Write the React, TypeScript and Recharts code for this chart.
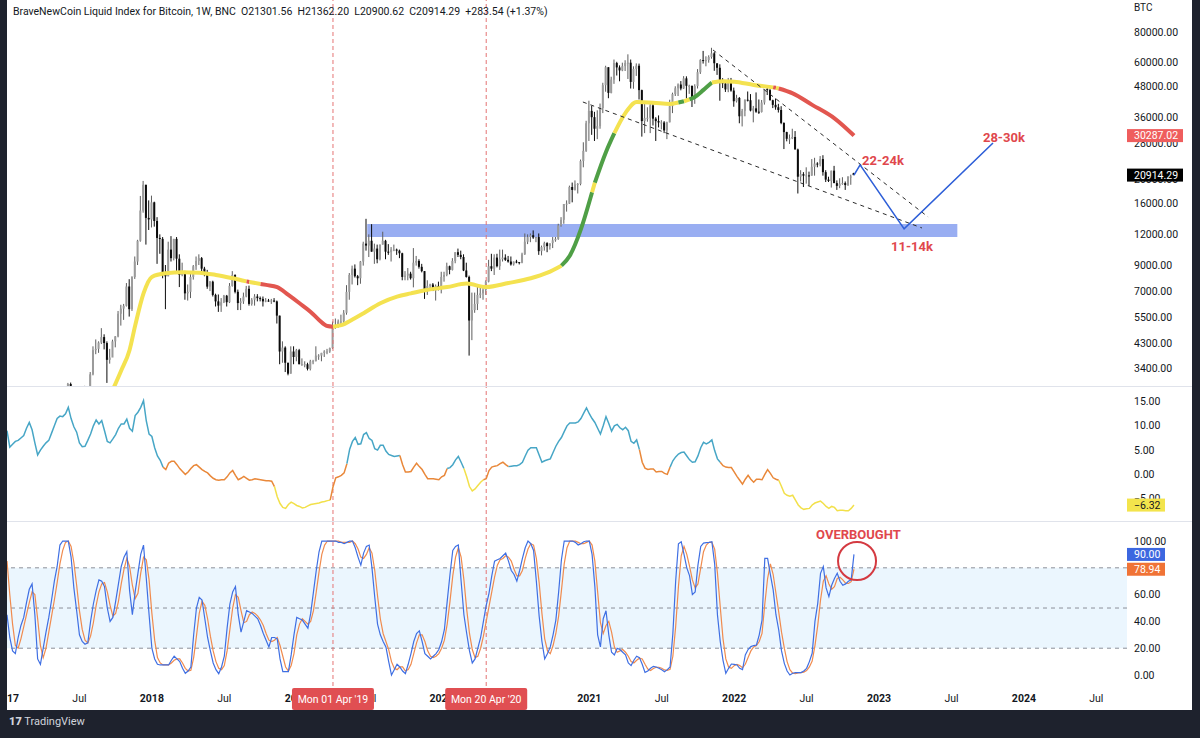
import React from 'react';
import {
  ComposedChart, Bar, Line, XAxis, YAxis,
  ReferenceLine, ReferenceArea, ReferenceDot,
} from 'recharts';

const FONT = 'Roboto, "Noto Sans", Arial, sans-serif';
const INK = '#131722';
const NOTE_RED = '#e0474c';
const MARKER_RED = '#e57373';

// time axis: week 0 = Mon 02 Jan 2017, one bar per week
const X_DOMAIN: [number, number] = [0, 402];
const timeTickWeeks = [0, 26, 52, 78, 104, 130, 156, 182, 209, 235, 261, 287, 313, 339, 365, 391];
const timeTickLabels = ['2017', 'Jul', '2018', 'Jul', '2019', 'Jul', '2020', 'Jul', '2021', 'Jul', '2022', 'Jul', '2023', 'Jul', '2024', 'Jul'];
const markerWeeks = [117, 172];
const markerLabels = ["Mon 01 Apr '19", "Mon 20 Apr '20"];

// ---- price (BNC BLX, weekly) ----
const SYMBOL = 'BraveNewCoin Liquid Index for Bitcoin, 1W, BNC';
const FIRST_PRICE_WEEK = 22;
const FIRST_OPEN = 2520;
const LAST_OPEN = 21301.56;
const LAST_CHANGE = 283.54;
const LAST_CHANGE_PCT = 1.37;

const closes = [
  2950, 2510, 2590, 2500, 2520, 1930, 2750, 2730,
  3230, 4050, 4100, 4350, 4580, 4330, 3700, 3780, 4400, 4610,
  5700, 5980, 6140, 7360, 5950, 8040, 9300, 11300, 15000, 19100,
  14000, 13800, 16200, 13600, 11600, 11500, 8200, 8100, 10400, 9600,
  11500, 9550, 8200, 8500, 6900, 7000, 8050, 8900, 9350, 9600,
  8700, 8250, 7350, 7700, 6800, 6400, 6150, 6350, 6750, 6350,
  7400, 8200, 7000, 6300, 6400, 6700, 7200, 6250, 6500, 6700,
  6600, 6550, 6400, 6450, 6400, 6450, 6400, 5600, 4000, 4150,
  3600, 3250, 4000, 3800, 4050, 3550, 3550, 3550, 3400, 3650,
  3650, 3850, 3850, 3950, 4000, 4000, 4130, 5050, 5050, 5300,
  5300, 5750, 7000, 8200, 8700, 8100, 7950, 9300, 11000, 10800,
  11300, 10200, 10500, 9500, 10900, 11300, 10200, 10150, 10400, 10400,
  10300, 10050, 8050, 8150, 8300, 7950, 9200, 9350, 8850, 8500,
  7050, 7400, 7500, 7100, 7400, 7250, 8050, 8200, 8900, 8600,
  9350, 10150, 9900, 9700, 8550, 8050, 5350, 5900, 6250, 6800,
  6900, 7130, 7700, 8900, 8700, 9650, 8900, 9500, 9650, 9450,
  9300, 9050, 9300, 9250, 9200, 9950, 11200, 11700, 11900, 11650,
  11700, 10250, 10650, 11050, 10750, 11050, 11350, 11500, 13050, 13750,
  15950, 16000, 18700, 18200, 19150, 19250, 23850, 26250, 34000, 38200,
  36000, 32300, 33100, 39200, 48600, 57500, 45200, 51200, 59800, 57400,
  55800, 58100, 59800, 60000, 50100, 56600, 58300, 46400, 34700, 35700,
  35800, 40200, 35500, 34700, 34250, 34250, 31800, 34300, 39900, 44700,
  47200, 48900, 47100, 51800, 48300, 48300, 42700, 48200, 54900, 61500,
  61300, 61500, 63300, 65500, 59700, 57200, 50400, 49400, 46700, 50800,
  46200, 41800, 43100, 36300, 38200, 42400, 42200, 38300, 39100, 37900,
  37800, 41300, 46800, 46400, 42200, 40400, 39500, 38500, 34100, 31300,
  29400, 29500, 29900, 26600, 20600, 21100, 20800, 20850, 20800, 22600,
  23300, 23200, 24300, 21500, 20050, 19800, 21800, 19400, 18900, 19300,
  19400, 19050, 20600, 20630.75, 20914.29,
];
const highs = [
  2980, 2990, 2770, 2600, 2630, 2540, 2900, 2830,
  3300, 4200, 4480, 4400, 4980, 4700, 4400, 4100, 4470, 4620,
  5850, 6200, 6250, 7600, 7880, 8100, 9750, 11400, 17200, 19800,
  19100, 16500, 17250, 16300, 14100, 12000, 11700, 9000, 11200, 11800,
  11500, 11700, 9950, 9200, 8520, 7500, 8450, 9000, 9750, 9950,
  9700, 8850, 8600, 7750, 7770, 6880, 6830, 6600, 6800, 6800,
  7600, 8500, 8250, 7150, 6600, 6950, 7400, 7420, 6600, 6850,
  6850, 6700, 6700, 6600, 6550, 6550, 6600, 6450, 5600, 4400,
  4200, 3600, 4200, 4200, 4100, 4100, 3750, 3650, 3600, 3700,
  3700, 4200, 3900, 3950, 4050, 4100, 4150, 5300, 5450, 5400,
  5650, 5900, 7450, 8350, 8950, 9050, 8200, 9350, 11200, 13880,
  12000, 13200, 11000, 10900, 10900, 12300, 11400, 10950, 10650, 10900,
  10500, 10400, 10100, 8500, 8750, 8450, 10550, 9800, 9500, 9100,
  8500, 7800, 7550, 7600, 7500, 7700, 8450, 8450, 9200, 8950,
  9600, 10150, 10500, 10300, 9950, 9200, 8150, 6950, 6950, 7350,
  7450, 7300, 7800, 9450, 10000, 9950, 10000, 10400, 10400, 9950,
  9800, 9750, 9300, 9450, 9250, 10100, 12100, 12000, 12100, 12450,
  11700, 12100, 10800, 11200, 11150, 10950, 11700, 11700, 13250, 14100,
  15950, 16500, 18950, 19500, 19900, 19400, 24200, 28450, 34800, 42000,
  40000, 37850, 38400, 40900, 49700, 58300, 57500, 52600, 61800, 60500,
  58500, 60000, 61400, 64900, 61800, 58000, 59600, 59500, 46600, 40800,
  39500, 41300, 41300, 36000, 36600, 35000, 34700, 34500, 42400, 45300,
  48100, 49400, 50500, 52900, 52800, 48800, 48400, 49000, 56500, 62000,
  67000, 63700, 64300, 69000, 66300, 59400, 59100, 51900, 50500, 52000,
  52000, 47500, 44400, 43500, 38900, 42500, 45800, 44700, 40000, 45400,
  42500, 42300, 46900, 48200, 47000, 42400, 42900, 40800, 39900, 34300,
  31400, 30600, 32300, 31600, 26800, 21900, 21500, 22500, 21600, 24300,
  24600, 23600, 25000, 25200, 21900, 20600, 21800, 22800, 19900, 20300,
  20500, 19700, 20700, 21000, 21362.2,
];
const lows = [
  2450, 2150, 2460, 2400, 2490, 1840, 1900, 2470,
  2650, 3200, 3900, 3950, 4290, 4080, 2980, 3570, 3800, 4160,
  4570, 5100, 5380, 6100, 5550, 5850, 7900, 9000, 11200, 14700,
  10900, 12500, 12800, 12900, 9100, 10000, 7950, 5950, 8100, 9300,
  9400, 8400, 7320, 8100, 6500, 6450, 6600, 7850, 8600, 9000,
  8350, 8100, 7200, 7050, 6700, 6100, 5800, 5800, 6300, 6100,
  6300, 7350, 6900, 5900, 5900, 6250, 6650, 6150, 6150, 6150,
  6400, 6400, 6100, 6350, 6380, 6250, 6350, 5200, 3550, 3600,
  3300, 3200, 3250, 3550, 3650, 3550, 3500, 3450, 3350, 3350,
  3550, 3650, 3700, 3650, 3800, 3900, 3950, 4100, 4950, 5000,
  5100, 5200, 5650, 6500, 7500, 8000, 7450, 7550, 8950, 10300,
  9700, 10200, 9100, 9150, 9400, 10900, 9500, 9900, 9300, 10250,
  9900, 9600, 7800, 7800, 7800, 7850, 7300, 8950, 8700, 8400,
  6550, 6800, 7100, 7050, 6450, 7100, 6900, 7700, 8100, 8250,
  8550, 9150, 9700, 9500, 8500, 8000, 3850, 4450, 5750, 5900,
  6600, 6500, 6800, 7650, 8500, 8200, 8800, 8600, 9300, 9350,
  9200, 8950, 8950, 9150, 9050, 9150, 9900, 10950, 11150, 11500,
  11150, 9900, 9850, 10300, 10150, 10400, 10550, 11200, 11400, 12900,
  13250, 14850, 15950, 16200, 18100, 17600, 19000, 22500, 26000, 28800,
  30500, 28800, 29300, 32300, 37400, 45700, 43000, 45000, 49200, 53200,
  50400, 55400, 55500, 51500, 47100, 47000, 53000, 42500, 30000, 31000,
  34500, 31000, 33300, 28800, 32700, 32100, 31000, 29300, 34300, 37400,
  43900, 43900, 46300, 46900, 42900, 44800, 39600, 40800, 47100, 54000,
  59500, 58000, 60000, 62300, 55600, 53500, 42000, 47300, 45600, 45500,
  45700, 39700, 41300, 34000, 33000, 36300, 41700, 38000, 34300, 37500,
  37100, 37600, 40500, 44300, 42100, 39200, 38600, 37600, 33700, 26700,
  28700, 28000, 29300, 26600, 17600, 19700, 18700, 19300, 18900, 20800,
  20800, 22500, 22700, 20800, 19600, 19600, 18600, 19400, 18200, 18500,
  19100, 18200, 18900, 19100, 20900.62,
];

// price scale ticks (log)
const priceTicks = [3400, 4300, 5500, 7000, 9000, 12000, 16000, 20000, 28000, 36000, 48000, 60000, 80000];
const PRICE_DOMAIN: [number, number] = [2895, 108000];

// moving average, with its trend colouring
const maWeeks = [38, 41, 44, 46, 49, 52, 57, 63, 69, 75, 81, 86, 87, 91, 93, 97, 101, 105, 109, 112, 115, 117, 120, 124, 128, 134, 140, 145, 150, 158, 165, 172, 180, 188, 194, 199, 202, 206, 210, 211, 215, 218, 222, 226, 232, 238, 241, 243, 245, 247, 250, 253, 257, 261, 268, 275, 276, 277, 282, 289, 297, 304];
const maValues = [2800, 3350, 4060, 5100, 6900, 8050, 8330, 8420, 8380, 8200, 7950, 7720, 7680, 7540, 7470, 7320, 6800, 6290, 5800, 5380, 5080, 5050, 5120, 5400, 5730, 6290, 6690, 6900, 7100, 7320, 7560, 7320, 7600, 7950, 8380, 8950, 9820, 12600, 17800, 19500, 26000, 31000, 37500, 41500, 41250, 40750, 41300, 41800, 42500, 43600, 46500, 49800, 50400, 50200, 48700, 47600, 47400, 47100, 45000, 40400, 35600, 30287.02];
const maSegments: [number, number, string][] = [
  [38, 86, 'y'], [86, 87, 'r'], [87, 91, 'y'], [91, 117, 'r'], [117, 199, 'y'],
  [199, 210, 'g'], [210, 211, 'y'], [211, 218, 'g'], [218, 241, 'y'], [241, 243, 'g'],
  [243, 245, 'y'], [245, 253, 'g'], [253, 275, 'y'], [275, 276, 'r'], [276, 277, 'y'], [277, 304, 'r'],
];
const MA_COLORS: Record<string, string> = { y: '#f4e250', g: '#4f9f46', r: '#e2564f' };

// drawn annotations
const supportBand = { fromWeek: 129.3, toWeek: 341.1, low: 11700, high: 13220 };
const channelUpper = [[253.4, 67600], [330.6, 14130]];
const channelLower = [[206.7, 41500], [328.4, 12740]];
const projectionWeeks = [304, 306.2, 322, 353.9];
const projectionPrices = [20914.29, 23010, 12630, 28270];
const noteLabels = ['22-24k', '28-30k', '11-14k'];
const noteWeeks = [306.9, 350.3, 317.3];
const notePrices = [23010, 28530, 10270];

// ---- momentum oscillator ----
const osc = [
  9.0, 5.6, 6.2, 6.8, 7.0, 7.5, 8.0, 9.5, 10.7, 9.2,
  6.5, 4.0, 5.0, 5.8, 6.5, 7.0, 8.5, 10.0, 11.5, 12.0,
  11.9, 12.5, 13.8, 11.5, 9.8, 8.7, 6.5, 5.7, 5.8, 7.0,
  8.3, 10.0, 11.2, 10.4, 11.1, 9.0, 6.8, 6.5, 7.3, 8.2,
  9.5, 10.4, 10.4, 11.4, 9.5, 8.9, 12.1, 12.8, 13.8, 15.2,
  11.0, 8.3, 7.8, 5.5, 3.8, 2.9, 1.5, 1.0, 2.3, 2.7,
  2.7, 2.0, 1.2, 0.6, 0.0, 0.5, 1.2, 1.8, 2.0, 1.5,
  1.0, 0.6, 0.3, -0.3, -0.8, -1.1, -1.2, -1.1, -1.1, -0.5,
  0.3, 0.8, -0.2, -1.1, -0.8, -0.4, -0.8, -1.2, -1.1, -0.9,
  -1.0, -1.1, -1.2, -1.3, -1.3, -1.4, -2.5, -4.6, -6.0, -6.8,
  -7.0, -6.2, -5.7, -6.0, -6.4, -6.6, -6.9, -6.8, -6.5, -6.2,
  -6.1, -6.0, -5.9, -5.7, -5.6, -5.4, -5.3, -2.6, -0.7, -0.5,
  -0.2, 0.3, 2.2, 5.2, 6.8, 7.6, 6.2, 6.3, 8.2, 8.6,
  7.4, 7.0, 5.3, 5.0, 6.0, 6.0, 4.8, 4.1, 3.9, 3.7,
  3.8, 3.9, 2.0, 0.5, 0.5, 0.6, 1.5, 2.3, 1.6, 1.0,
  0.0, -0.9, -0.9, -0.9, -1.0, -1.1, -0.5, -0.2, 1.2, 1.4,
  2.0, 3.0, 3.7, 2.5, 1.2, -0.5, -2.5, -3.4, -3.0, -2.3,
  -1.6, -1.1, -0.9, 0.8, 1.5, 1.7, 1.8, 2.2, 2.5, 2.0,
  1.6, 1.7, 1.8, 1.8, 2.0, 2.5, 3.8, 5.0, 5.5, 5.5,
  5.5, 4.0, 2.5, 2.8, 3.0, 3.2, 4.5, 5.8, 6.8, 7.6,
  8.8, 10.0, 10.6, 10.6, 10.6, 10.8, 11.5, 12.6, 13.7, 12.5,
  11.5, 10.7, 9.5, 8.3, 10.0, 11.9, 10.5, 8.9, 10.0, 10.3,
  9.6, 9.2, 9.7, 9.0, 6.8, 6.4, 7.1, 5.1, 2.5, 1.3,
  1.0, 1.1, 1.1, 0.5, 0.6, 0.6, 0.2, 0.0, 1.5, 2.8,
  3.6, 4.2, 4.5, 4.6, 3.8, 3.0, 2.5, 2.6, 3.8, 5.5,
  6.6, 6.3, 6.6, 7.1, 4.9, 3.2, 2.5, 1.8, 1.5, 1.4,
  1.4, 0.5, -0.4, -1.2, -2.0, -1.0, -0.2, -1.0, -1.6, -1.0,
  -1.0, -1.1, 0.0, 1.0, 0.2, -0.7, -1.0, -1.2, -2.5, -3.9,
  -4.3, -4.5, -4.3, -5.3, -6.3, -6.9, -7.2, -7.1, -7.0, -6.3,
  -5.9, -5.7, -5.5, -6.0, -6.6, -7.0, -6.6, -6.8, -7.5, -7.4,
  -7.4, -7.5, -7.5, -7.0, -6.32,
];
const oscSegments: [number, number, string][] = [
  [0, 56, 't'], [56, 96, 'o'], [96, 116, 'y'], [116, 122, 'o'], [122, 141, 't'],
  [141, 158, 'o'], [158, 164, 't'], [164, 171, 'y'], [171, 180, 'o'], [180, 227, 't'],
  [227, 238, 'o'], [238, 256, 't'], [256, 277, 'o'], [277, 304, 'y'],
];
const OSC_COLORS: Record<string, string> = { t: '#47a6c6', o: '#e9883a', y: '#f2e04a' };
const oscTicks = [-5, 0, 5, 10, 15];

// ---- stochastic RSI ----
const stochK = [
  45, 28, 18, 16, 28, 37, 43, 54, 64, 68,
  45, 12, 8, 20, 32, 43, 56, 70, 81, 97,
  100, 100, 100, 88, 65, 48, 30, 25, 23, 24,
  40, 53, 63, 71, 70, 66, 50, 40, 43, 55,
  68, 81, 88, 92, 63, 45, 62, 76, 90, 97,
  72, 45, 20, 12, 8, 7.5, 7.5, 7.5, 7.5, 11,
  14, 12, 10, 5, 1.3, 3, 6, 30, 50, 58,
  56, 42, 28, 18, 9, 4, 1, 6, 14, 35,
  53, 62, 66, 45, 32, 40, 48, 47, 46, 44,
  42, 37, 31, 26, 21, 28, 28, 27, 12, 2.5,
  2.5, 2.5, 15, 30, 43, 42, 41, 38, 35, 46,
  62, 78, 92, 100, 100, 100, 100, 100, 100, 99,
  99, 98, 99, 100, 100, 95, 88, 82, 91, 96,
  97, 80, 58, 38, 30, 25, 21, 10, 0, 4,
  8, 6, 3, 1, 8, 16, 25, 31, 33, 25,
  16, 14, 12, 14, 16, 19, 25, 34, 55, 75,
  93, 96, 97, 70, 45, 31, 18, 9, 12, 20,
  28, 40, 52, 61, 74, 85, 86, 87, 89, 91,
  85, 78, 75, 70, 78, 87, 95, 100, 98, 93,
  70, 44, 25, 12, 16, 21, 30, 41, 62, 86,
  100, 100, 100, 100, 99, 97, 98, 99.5, 100, 100,
  90, 66, 30, 21, 42, 48, 30, 17, 15, 20,
  19, 17, 15, 9, 7, 11, 14, 13, 8, 2,
  3, 5, 6.5, 6, 5, 4, 2.5, 4, 6, 31,
  70, 98, 99.5, 90, 80, 74, 60, 62, 82, 96,
  98.5, 98.8, 99, 99.5, 83, 45, 25, 11, 1.3, 5,
  8.2, 8, 7.5, 5, 4, 15, 19, 21.2, 22, 22.4,
  30, 41, 87, 87, 75, 63.5, 45, 33.6, 18, 8.7,
  3, 0, 1.3, 1.8, 1.8, 1.8, 3, 5, 10, 16.2,
  40, 53.5, 75.9, 80.9, 65, 58.5, 67, 72, 75.9, 70,
  67, 68, 70, 71, 90,
];
const stochD = [
  85, 60, 38, 22, 20, 27, 36, 45, 54, 62,
  60, 42, 22, 13, 20, 32, 44, 56, 69, 83,
  93, 99, 100, 96, 84, 67, 48, 34, 26, 24,
  29, 39, 52, 62, 68, 69, 62, 52, 44, 46,
  55, 68, 79, 87, 81, 67, 57, 61, 76, 88,
  86, 71, 46, 26, 13, 9, 7.5, 7.5, 7.5, 9,
  11, 12, 12, 9, 5, 3, 3.5, 13, 29, 46,
  55, 52, 42, 29, 18, 10, 5, 4, 7, 18,
  34, 50, 60, 58, 48, 39, 40, 45, 47, 46,
  44, 41, 37, 31, 26, 25, 26, 28, 22, 14,
  6, 3, 7, 16, 30, 38, 42, 40, 38, 40,
  48, 62, 77, 90, 97, 100, 100, 100, 100, 100,
  99, 99, 99, 99, 100, 98, 94, 88, 87, 90,
  95, 91, 78, 59, 42, 31, 25, 19, 10, 5,
  4, 6, 6, 3, 4, 8, 16, 24, 30, 30,
  25, 18, 14, 13, 14, 16, 20, 26, 38, 55,
  74, 88, 95, 88, 71, 49, 31, 19, 13, 14,
  20, 29, 40, 51, 62, 73, 82, 86, 87, 89,
  88, 85, 79, 74, 74, 78, 87, 94, 98, 97,
  87, 69, 46, 27, 18, 16, 22, 31, 44, 63,
  83, 95, 100, 100, 100, 99, 98, 98, 99, 100,
  97, 85, 62, 39, 31, 37, 40, 32, 21, 17,
  18, 19, 17, 14, 10, 9, 11, 12.5, 12, 8,
  4.5, 3.3, 4.8, 5.8, 5.8, 5, 3.8, 3.5, 4.2, 14,
  36, 66, 89, 96, 90, 81, 71, 65, 68, 80,
  92, 97, 99, 99, 94, 76, 51, 27, 12, 6,
  5, 7, 8, 7, 5.5, 8, 13, 18, 21, 22,
  25, 31, 53, 72, 83, 75, 61, 47, 32, 20,
  10, 4, 1.4, 1, 1.6, 1.8, 2.2, 3.3, 6, 10.4,
  22, 37, 56, 70, 74, 68, 64, 66, 72, 73,
  71, 68.5, 68.3, 69.7, 78.94,
];
const stochTicks = [0, 20, 40, 60, 80, 100];
const stochBands = [80, 50, 20];
const overbought = { label: 'OVERBOUGHT', week: 305.6, value: 101.5, circleWeek: 305.1, circleValue: 85.1 };

// ---- derived tables ----
const priceRows = closes.map((c, j) => ({
  w: FIRST_PRICE_WEEK + j,
  o: j === 0 ? FIRST_OPEN : j === closes.length - 1 ? LAST_OPEN : closes[j - 1],
  h: highs[j],
  l: lows[j],
  c,
  range: [lows[j], highs[j]],
}));
const rows = osc.map((v, w) => ({ w, osc: v, k: stochK[w], d: stochD[w] }));
const maPoints = maWeeks.map((w, i) => ({ w, ma: maValues[i] }));
const projection = projectionWeeks.map((w, i) => ({ w, p: projectionPrices[i] }));
const last = (a: number[]) => a[a.length - 1];

const fmt = (v: number) => (v < 0 ? '\u2212' : '') + Math.abs(v).toFixed(2);

const PLOT_W = 1120;
const AXIS_W = 65;
const CHART_W = PLOT_W + AXIS_W;
const NO_MARGIN = { top: 0, right: 0, bottom: 0, left: 0 };
const TICK_GAP = 7;

// last-value tags sit on the price scale, drawn after the plain ticks so they cover them
type Tag = { value: number; bg: string; fg: string; w: number };
const priceTags: Tag[] = [
  { value: last(maValues), bg: '#ef5d5d', fg: '#fff', w: 56 },
  { value: last(closes), bg: '#000', fg: '#fff', w: 56 },
];
const oscTags: Tag[] = [{ value: last(osc), bg: '#f3e44c', fg: INK, w: 38 }];
const stochTags: Tag[] = [
  { value: last(stochK), bg: '#3c67e0', fg: '#fff', w: 38 },
  { value: last(stochD), bg: '#f07336', fg: '#fff', w: 38 },
];

const Candle = (props: any) => {
  const { x, y, width, height, payload } = props;
  if (!payload || payload.h == null || !isFinite(y) || !isFinite(height)) return null;
  const { o, h, l, c } = payload;
  const top = Math.min(y, y + height);
  const bot = Math.max(y, y + height);
  const span = Math.log(h) - Math.log(l) || 1;
  const yAt = (p: number) => top + (bot - top) * (Math.log(h) - Math.log(p)) / span;
  const cx = x + width / 2;
  const up = c >= o;
  const bTop = yAt(Math.max(o, c));
  const bBot = yAt(Math.min(o, c));
  return (
    <g>
      <line x1={cx} x2={cx} y1={top} y2={bot} stroke={up ? '#5e5e5e' : '#0b0b0b'} strokeWidth={1} />
      <rect x={cx - 1} y={bTop} width={2} height={Math.max(1, bBot - bTop)} fill={up ? '#9b9b9b' : '#0b0b0b'} />
    </g>
  );
};

const makeAxisTick = (tags: Tag[], plainCount: number) => (props: any) => {
  const { x, y, payload, index } = props;
  if (index >= plainCount) {
    const tag = tags[index - plainCount];
    return (
      <g>
        <rect x={x - TICK_GAP} y={y - 6.5} width={tag.w} height={13} fill={tag.bg} />
        <text x={x} y={y} dy={3.8} textAnchor="start" fontSize={10.5} fontFamily={FONT} fill={tag.fg}>
          {fmt(tag.value)}
        </text>
      </g>
    );
  }
  return (
    <text x={x} y={y} dy={3.5} textAnchor="start" fontSize={10.5} fontFamily={FONT} fill={INK}>
      {fmt(payload.value)}
    </text>
  );
};

const TimeTick = (props: any) => {
  const { x, y, payload } = props;
  const mi = markerWeeks.indexOf(payload.value);
  if (mi >= 0) {
    return (
      <g>
        <rect x={x - 41} y={y + 2} width={82} height={22} rx={2} fill="#e04f52" />
        <text x={x} y={y + 17} textAnchor="middle" fontSize={10.5} fontFamily={FONT} fill="#fff">
          {markerLabels[mi]}
        </text>
      </g>
    );
  }
  const ti = timeTickWeeks.indexOf(payload.value);
  const label = timeTickLabels[ti];
  const isYear = /^\d{4}$/.test(label);
  return (
    <text x={x} y={y + 16} textAnchor="middle" fontSize={10.5} fontFamily={FONT}
      fontWeight={isYear ? 700 : 400} fill={INK}>
      {label}
    </text>
  );
};

const noteText = (text: string, anchor: 'start' | 'middle', size: number) => (props: any) => {
  const vb = props.viewBox || {};
  return (
    <text x={vb.x} y={vb.y} textAnchor={anchor} fontSize={size} fontWeight={700}
      fontFamily={FONT} fill={NOTE_RED}>
      {text}
    </text>
  );
};

const valueAxis = (domain: [number, number], ticks: number[], tags: Tag[], log = false) => (
  <YAxis orientation="right" type="number" scale={log ? 'log' : 'auto'} domain={domain} allowDataOverflow
    ticks={[...ticks, ...tags.map((t) => t.value)]} interval={0}
    tick={makeAxisTick(tags, ticks.length)} tickSize={0} tickMargin={TICK_GAP}
    axisLine={false} tickLine={false} width={AXIS_W} />
);

const hiddenX = (
  <XAxis dataKey="w" type="number" domain={X_DOMAIN} hide allowDataOverflow />
);

const markerLines = markerWeeks.map((w) => (
  <ReferenceLine key={`m${w}`} x={w} stroke={MARKER_RED} strokeDasharray="4 3" strokeWidth={1} />
));

const PricePane = () => (
  <ComposedChart width={CHART_W} height={386} data={priceRows} margin={NO_MARGIN}>
    {hiddenX}
    {valueAxis(PRICE_DOMAIN, priceTicks, priceTags, true)}
    <ReferenceArea x1={supportBand.fromWeek} x2={supportBand.toWeek} y1={supportBand.low} y2={supportBand.high}
      fill="#99aef2" fillOpacity={1} stroke="none" />
    {markerLines}
    <Bar dataKey="range" barSize={2} shape={(p: any) => <Candle {...p} />} isAnimationActive={false} />
    {maSegments.map(([a, b, col], i) => (
      <Line key={`ma${i}`} data={maPoints.filter((p) => p.w >= a && p.w <= b)} dataKey="ma" type="monotone"
        stroke={MA_COLORS[col]} strokeWidth={4} dot={false} activeDot={false} isAnimationActive={false} />
    ))}
    <ReferenceLine segment={channelUpper.map(([x, y]) => ({ x, y }))} stroke="#2b2b2b" strokeDasharray="4 4" strokeWidth={1} />
    <ReferenceLine segment={channelLower.map(([x, y]) => ({ x, y }))} stroke="#2b2b2b" strokeDasharray="4 4" strokeWidth={1} />
    <Line data={projection} dataKey="p" type="linear" stroke="#2e5fd8" strokeWidth={1.6}
      dot={false} activeDot={false} isAnimationActive={false} />
    {noteLabels.map((t, i) => (
      <ReferenceDot key={t} x={noteWeeks[i]} y={notePrices[i]} r={0} fill="none" stroke="none"
        label={noteText(t, 'start', 13)} />
    ))}
  </ComposedChart>
);

const OscPane = () => (
  <ComposedChart width={CHART_W} height={134} data={rows} margin={NO_MARGIN}>
    {hiddenX}
    {valueAxis([-9.6, 18], oscTicks, oscTags)}
    {markerLines}
    {oscSegments.map(([a, b, col], i) => (
      <Line key={`o${i}`} data={rows.slice(a, b + 1)} dataKey="osc" type="linear" stroke={OSC_COLORS[col]}
        strokeWidth={1.5} dot={false} activeDot={false} isAnimationActive={false} />
    ))}
  </ComposedChart>
);

const StochPane = () => (
  <ComposedChart width={CHART_W} height={188} data={rows} margin={NO_MARGIN}>
    <XAxis dataKey="w" type="number" domain={X_DOMAIN} allowDataOverflow height={24}
      ticks={[...timeTickWeeks, ...markerWeeks]} interval={0} tick={<TimeTick />}
      tickSize={0} tickMargin={0} axisLine={false} tickLine={false} />
    {valueAxis([-8.2, 114.2], stochTicks, stochTags)}
    <ReferenceArea y1={stochBands[2]} y2={stochBands[0]} fill="#2196f3" fillOpacity={0.09} stroke="none" />
    {stochBands.map((v) => (
      <ReferenceLine key={`b${v}`} y={v} stroke="#8c8f99" strokeDasharray="4 4" strokeWidth={1} />
    ))}
    {markerLines}
    <Line dataKey="d" type="linear" stroke="#f08b4e" strokeWidth={1.2} dot={false} activeDot={false} isAnimationActive={false} />
    <Line dataKey="k" type="linear" stroke="#3f6fe3" strokeWidth={1.2} dot={false} activeDot={false} isAnimationActive={false} />
    <ReferenceDot x={overbought.circleWeek} y={overbought.circleValue} r={19} fill="none" stroke="#d43a41" strokeWidth={2} />
    <ReferenceDot x={overbought.week} y={overbought.value} r={0} fill="none" stroke="none"
      label={noteText(overbought.label, 'middle', 13)} />
  </ComposedChart>
);

export default function App() {
  const lastIdx = closes.length - 1;
  const header = `${SYMBOL}  O${LAST_OPEN.toFixed(2)}  H${highs[lastIdx].toFixed(2)}  L${lows[lastIdx].toFixed(2)}  C${closes[lastIdx].toFixed(2)}  +${LAST_CHANGE.toFixed(2)} (+${LAST_CHANGE_PCT.toFixed(2)}%)`;
  return (
    <div style={{ position: 'absolute', left: 0, top: 0, width: 1200, height: 738, background: '#1e222d', overflow: 'hidden', fontFamily: FONT }}>
      <div style={{ position: 'absolute', left: 7, top: 0, width: CHART_W, height: 710, background: '#fff' }} />
      <div style={{ position: 'absolute', left: 7, top: 0 }}><PricePane /></div>
      <div style={{ position: 'absolute', left: 7, top: 386, width: CHART_W, height: 1, background: '#e0e3eb' }} />
      <div style={{ position: 'absolute', left: 7, top: 387 }}><OscPane /></div>
      <div style={{ position: 'absolute', left: 7, top: 521, width: CHART_W, height: 1, background: '#e0e3eb' }} />
      <div style={{ position: 'absolute', left: 7, top: 522 }}><StochPane /></div>
      <div style={{ position: 'absolute', left: 13, top: 5, fontSize: 10.5, color: INK, whiteSpace: 'pre' }}>{header}</div>
      <div style={{ position: 'absolute', left: 1134, top: 2, fontSize: 10, color: INK }}>BTC</div>
      <div style={{ position: 'absolute', left: 0, top: 0, width: 7, height: 738, background: '#1e222d' }} />
      <div style={{ position: 'absolute', left: 9, top: 715, fontSize: 11, color: '#d1d4dc', whiteSpace: 'pre' }}>
        <span style={{ fontWeight: 900 }}>17</span> TradingView
      </div>
    </div>
  );
}
